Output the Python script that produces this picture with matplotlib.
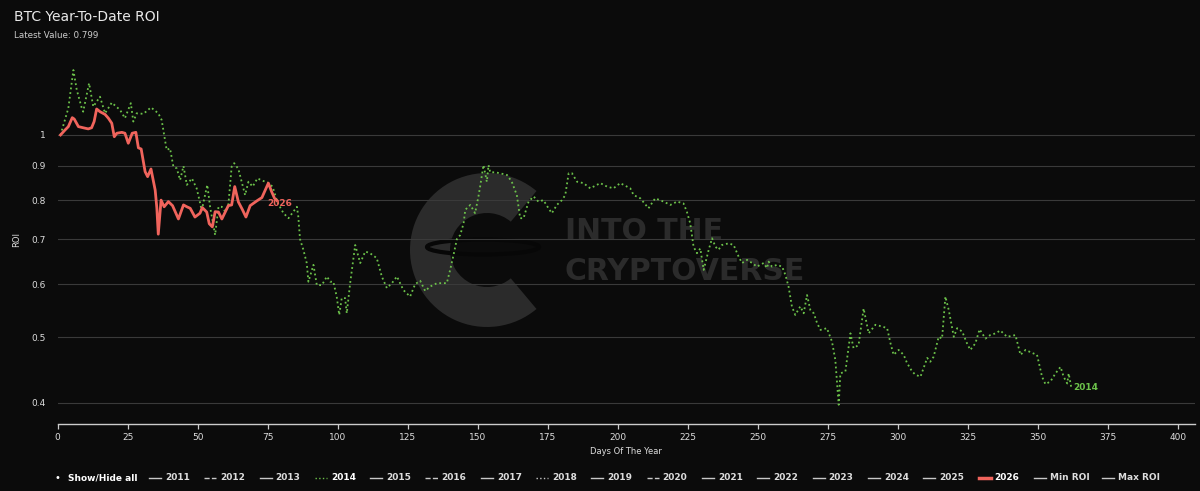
import matplotlib.pyplot as plt
from matplotlib.patches import Wedge, Ellipse
from matplotlib.lines import Line2D
from matplotlib.ticker import FixedLocator, FixedFormatter, NullLocator

# 2014 year-to-date ROI (day of year, ROI)
days_2014 = [1.0, 2.6, 3.8, 5.6, 6.8, 8.6, 9.1, 11.2, 12.7, 15.1, 16.9, 19.3, 22.3, 24.0, 26.1,
             27.0, 28.2, 30.6, 33.3, 35.9, 37.1, 38.9, 40.1, 41.3, 42.5, 43.7, 44.9, 46.1, 47.9,
             49.6, 50.6, 51.4, 53.4, 54.4, 56.2, 57.4, 58.6, 59.8, 60.9, 62.1, 63.0, 64.5, 66.9,
             68.1, 69.6, 71.3, 73.1, 74.9, 76.7, 78.5, 80.6, 82.4, 85.4, 85.9, 86.5, 87.7, 88.9,
             89.5, 91.3, 92.5, 94.3, 96.1, 97.3, 98.4, 99.6, 100.5, 101.4, 102.6, 103.2, 104.4,
             106.2, 108.0, 109.8, 111.5, 113.9, 115.7, 117.5, 119.3, 121.1, 123.4, 125.8, 127.6,
             129.4, 131.2, 132.9, 135.4, 138.9, 140.1, 141.3, 142.5, 143.7, 144.9, 145.5, 147.3,
             149.0, 150.2, 150.8, 152.0, 152.6, 153.2, 153.8, 154.4, 156.2, 158.0, 160.4, 162.1,
             163.9, 165.1, 166.3, 168.1, 169.9, 171.6, 173.4, 175.2, 176.4, 178.2, 180.0, 181.2,
             182.4, 183.6, 185.4, 187.7, 190.1, 193.7, 196.1, 198.4, 200.8, 203.2, 204.4, 205.6,
             208.0, 210.9, 213.3, 216.3, 218.7, 221.1, 223.4, 224.6, 225.8, 227.0, 228.2, 229.4,
             230.6, 232.4, 233.6, 234.8, 235.9, 237.1, 239.5, 241.3, 243.1, 244.3, 246.1, 247.9,
             249.6, 252.0, 253.2, 253.8, 255.0, 256.8, 258.6, 259.8, 260.9, 262.1, 263.3, 265.1,
             266.3, 267.5, 268.7, 269.9, 271.1, 272.3, 274.6, 276.4, 277.6, 278.8, 279.4, 281.2,
             283.0, 284.1, 285.9, 287.7, 289.5, 291.9, 294.3, 296.1, 297.3, 298.4, 300.2, 302.0,
             303.2, 305.0, 306.2, 308.0, 310.4, 311.5, 312.7, 314.5, 315.7, 316.9, 318.1, 319.9,
             321.1, 322.9, 324.6, 325.8, 327.6, 329.1, 331.2, 332.9, 334.8, 336.5, 338.9, 341.9,
             343.7, 345.5, 347.9, 349.6, 351.4, 352.6, 354.4, 356.2, 358.0, 359.1, 360.4, 360.9,
             361.8]
roi_2014 = [1.000, 1.053, 1.096, 1.249, 1.167, 1.096, 1.083, 1.194, 1.102, 1.140, 1.077, 1.117,
            1.089, 1.059, 1.115, 1.047, 1.077, 1.075, 1.099, 1.077, 1.053, 0.950, 0.955, 0.897,
            0.892, 0.857, 0.899, 0.843, 0.862, 0.833, 0.800, 0.772, 0.843, 0.782, 0.710, 0.782,
            0.782, 0.769, 0.785, 0.897, 0.908, 0.890, 0.814, 0.852, 0.838, 0.862, 0.855, 0.850,
            0.838, 0.793, 0.765, 0.752, 0.782, 0.756, 0.700, 0.675, 0.645, 0.605, 0.641, 0.598,
            0.598, 0.616, 0.605, 0.605, 0.575, 0.540, 0.572, 0.572, 0.543, 0.602, 0.686, 0.645,
            0.671, 0.667, 0.656, 0.616, 0.592, 0.602, 0.616, 0.588, 0.575, 0.600, 0.607, 0.586,
            0.595, 0.602, 0.602, 0.630, 0.663, 0.700, 0.710, 0.739, 0.774, 0.787, 0.765, 0.810,
            0.838, 0.902, 0.877, 0.852, 0.902, 0.880, 0.880, 0.877, 0.872, 0.852, 0.814, 0.752,
            0.752, 0.796, 0.810, 0.796, 0.800, 0.778, 0.765, 0.787, 0.800, 0.814, 0.877, 0.877,
            0.852, 0.848, 0.833, 0.848, 0.838, 0.833, 0.848, 0.838, 0.833, 0.814, 0.805, 0.778,
            0.805, 0.796, 0.787, 0.796, 0.791, 0.769, 0.739, 0.682, 0.667, 0.678, 0.630, 0.675,
            0.702, 0.682, 0.675, 0.686, 0.690, 0.686, 0.659, 0.645, 0.652, 0.645, 0.637, 0.645,
            0.634, 0.648, 0.637, 0.641, 0.637, 0.619, 0.595, 0.556, 0.540, 0.556, 0.543, 0.578,
            0.549, 0.543, 0.525, 0.513, 0.516, 0.493, 0.463, 0.397, 0.442, 0.445, 0.507, 0.482,
            0.487, 0.552, 0.507, 0.522, 0.519, 0.516, 0.490, 0.471, 0.479, 0.471, 0.458, 0.445,
            0.440, 0.437, 0.466, 0.460, 0.468, 0.501, 0.498, 0.575, 0.549, 0.501, 0.516, 0.510,
            0.490, 0.479, 0.490, 0.514, 0.498, 0.504, 0.507, 0.512, 0.501, 0.504, 0.471, 0.479,
            0.474, 0.471, 0.437, 0.426, 0.430, 0.442, 0.452, 0.437, 0.427, 0.442, 0.422]

# 2026 year-to-date ROI (current year)
days_2026 = [1.0, 2.6, 3.8, 5.2, 5.9, 7.4, 9.1, 10.9, 12.1, 13.0, 13.9, 15.1, 16.9, 18.1, 19.3,
             20.2, 21.1, 22.9, 24.0, 25.2, 26.6, 27.9, 28.8, 29.8, 31.2, 32.1, 33.3, 34.8, 35.4,
             35.9, 36.9, 38.0, 39.5, 41.0, 43.1, 44.9, 46.1, 47.3, 49.0, 50.8, 51.6, 53.2, 54.1,
             55.2, 56.2, 57.4, 58.6, 59.8, 60.9, 62.1, 63.2, 64.5, 65.9, 67.2, 68.7, 71.1, 72.9,
             75.2, 76.4, 77.4, 78.2]
roi_2026 = [1.000, 1.017, 1.029, 1.061, 1.056, 1.029, 1.025, 1.021, 1.025, 1.047, 1.093, 1.083,
            1.073, 1.059, 1.041, 0.994, 1.006, 1.009, 1.006, 0.972, 1.006, 1.009, 0.957, 0.953,
            0.882, 0.867, 0.890, 0.828, 0.778, 0.712, 0.800, 0.782, 0.796, 0.785, 0.750, 0.787,
            0.782, 0.778, 0.755, 0.765, 0.780, 0.768, 0.738, 0.730, 0.769, 0.768, 0.750, 0.768,
            0.785, 0.787, 0.838, 0.795, 0.775, 0.755, 0.785, 0.798, 0.807, 0.848, 0.823, 0.805,
            0.799]
latest_value = 0.799

y_ticks = [0.4, 0.5, 0.6, 0.7, 0.8, 0.9, 1]
y_tick_labels = ['0.4', '0.5', '0.6', '0.7', '0.8', '0.9', '1']
x_ticks = list(range(0, 401, 25))

legend_names = ['2011', '2012', '2013', '2014', '2015', '2016', '2017', '2018', '2019', '2020',
                '2021', '2022', '2023', '2024', '2025', '2026', 'Min ROI', 'Max ROI']
legend_dash = ['-', '--', '-', ':', '-', '--', '-', ':', '-', '--',
               '-', '-', '-', '-', '-', '-', '-', '-']

BG = '#0b0b0b'
GREEN = '#6cc24a'
RED = '#f0645c'
WM = '#2b2b2b'
W, H = 1200, 491


def fx(px):
    return px / W


def fy(py):
    return 1 - py / H


fig = plt.figure(figsize=(12, 4.91), dpi=100, facecolor=BG)

# background layer for the watermark, in pixel units
bg = fig.add_axes([0, 0, 1, 1], zorder=0)
bg.set_xlim(0, W)
bg.set_ylim(H, 0)
bg.axis('off')
bg.set_facecolor(BG)
bg.add_patch(Wedge((487, 250), 77, 50, 310, width=40, color=WM, lw=0))
bg.add_patch(Ellipse((483, 247), 112, 15, fill=False, ec='#070707', lw=3))
bg.text(565, 232, 'INTO THE', color=WM, fontsize=21.5, fontweight='bold', va='center')
bg.text(565, 271, 'CRYPTOVERSE', color=WM, fontsize=21.5, fontweight='bold', va='center')

ax = fig.add_axes([fx(57.7), fy(424.3), fx(1195 - 57.7), (424.3 - 55) / H], zorder=1)
ax.patch.set_alpha(0)

ax.plot(days_2014, roi_2014, color=GREEN, lw=1.3, linestyle=(0, (1, 1.6)))
ax.plot(days_2026, roi_2026, color=RED, lw=2)
ax.annotate('2014', xy=(days_2014[-1], roi_2014[-1]), xytext=(1.5, -0.5), textcoords='offset points',
            color=GREEN, fontsize=6.5, fontweight='bold', va='center')
ax.annotate('2026', xy=(days_2026[-1], roi_2026[-1]), xytext=(-6.5, -2), textcoords='offset points',
            color=RED, fontsize=6.5, fontweight='bold', va='center')

ax.set_yscale('log')
ax.set_ylim(0.3713, 1.315)
ax.set_xlim(0, 406)
ax.yaxis.set_major_locator(FixedLocator(y_ticks))
ax.yaxis.set_major_formatter(FixedFormatter(y_tick_labels))
ax.yaxis.set_minor_locator(NullLocator())
ax.set_xticks(x_ticks)
ax.grid(axis='y', color='#3a3a3a', lw=0.8)
ax.set_axisbelow(True)
for s in ['top', 'right', 'left']:
    ax.spines[s].set_visible(False)
ax.spines['bottom'].set_color('#cccccc')
ax.spines['bottom'].set_linewidth(1)
ax.tick_params(axis='y', length=0, pad=8.5, labelsize=6.5, labelcolor='#dddddd')
ax.tick_params(axis='x', length=3.6, width=0.9, color='#cccccc', pad=2.5, labelsize=6.5,
               labelcolor='#dddddd')
ax.set_xlabel('Days Of The Year', color='#dddddd', fontsize=6, labelpad=4)
ax.set_ylabel('ROI', color='#dddddd', fontsize=6)
ax.yaxis.set_label_coords(-0.032, 0.5)

# titles
fig.text(fx(14), fy(17), 'BTC Year-To-Date ROI', color='#e8e8e8', fontsize=10, va='center')
fig.text(fx(14), fy(35), 'Latest Value: %.3f' % latest_value, color='#cccccc', fontsize=6.3,
         va='center')

# legend along the bottom
ly = fy(478)
fig.text(fx(54), ly, '\u2022', color='#ffffff', fontsize=7, va='center')
fig.text(fx(68), ly, 'Show/Hide all', color='#ffffff', fontsize=6.5, fontweight='bold', va='center')
sym_x = [149 + 55.3 * i for i in range(17)] + [1102]
for name, dash, x0 in zip(legend_names, legend_dash, sym_x):
    col, lw, tcol = '#c8c8c8', 1.0, '#dddddd'
    if name == '2014':
        col, tcol = GREEN, '#ffffff'
    if name == '2026':
        col, lw, tcol = RED, 2.5, '#ffffff'
    fig.add_artist(Line2D([fx(x0), fx(x0 + 12)], [ly, ly], color=col, lw=lw, linestyle=dash))
    fig.text(fx(x0 + 16), ly, name, color=tcol, fontsize=6.5, fontweight='bold', va='center')

fig.savefig('out.png', dpi=100, facecolor=BG)
